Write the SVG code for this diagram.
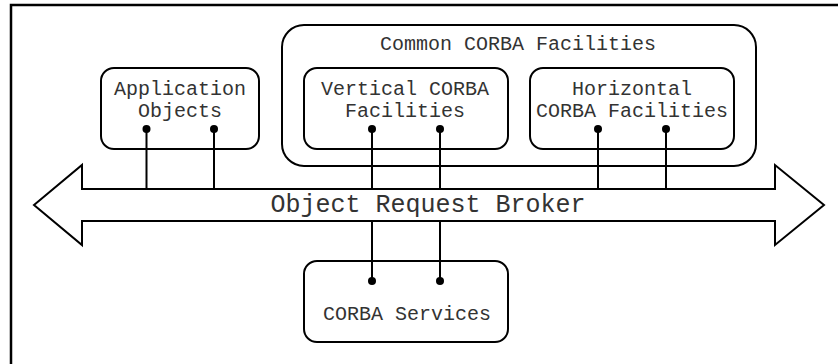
<svg xmlns="http://www.w3.org/2000/svg" width="838" height="364" viewBox="0 0 838 364">
<style>
.box{fill:none;stroke:#000;stroke-width:2}
.t{font-family:"Liberation Mono","Courier New",monospace;font-size:20px;fill:#333;text-anchor:middle}
.big{font-size:25px}
.con line{stroke:#000;stroke-width:2}
.con circle{fill:#000}
</style>
<rect width="838" height="364" fill="#fff"/>
<rect x="11" y="5" width="900" height="420" fill="none" stroke="#000" stroke-width="2.5"/>
<g id="orb">
<polygon points="34,205 82,165 82,189 775,189 775,165 824,205 775,245 775,221 82,221 82,245" fill="#fff" stroke="#000" stroke-width="2"/>
<text class="t big" x="428" y="212">Object Request Broker</text>
</g>
<g id="application-objects">
<rect class="box" x="101" y="68" width="158" height="81" rx="13"/>
<text class="t" x="180" y="95">Application</text>
<text class="t" x="180" y="117">Objects</text>
</g>
<g id="common-corba-facilities">
<rect class="box" x="282" y="25" width="474" height="141" rx="22"/>
<text class="t" x="518" y="50">Common CORBA Facilities</text>
</g>
<g id="vertical-corba-facilities">
<rect class="box" x="304" y="68" width="204" height="81" rx="13"/>
<text class="t" x="405" y="95">Vertical CORBA</text>
<text class="t" x="405" y="117">Facilities</text>
</g>
<g id="horizontal-corba-facilities">
<rect class="box" x="530" y="68" width="204" height="81" rx="13"/>
<text class="t" x="632" y="95">Horizontal</text>
<text class="t" x="632" y="117">CORBA Facilities</text>
</g>
<g id="corba-services">
<rect class="box" x="304" y="261" width="204" height="81" rx="13"/>
<text class="t" x="407" y="320">CORBA Services</text>
</g>
<g class="con" id="connectors">
<line x1="146.5" y1="129" x2="146.5" y2="189"/>
<line x1="214" y1="129" x2="214" y2="189"/>
<line x1="372" y1="129" x2="372" y2="189"/>
<line x1="440" y1="129" x2="440" y2="189"/>
<line x1="598" y1="129" x2="598" y2="189"/>
<line x1="666" y1="129" x2="666" y2="189"/>
<line x1="372" y1="221" x2="372" y2="281"/>
<line x1="440" y1="221" x2="440" y2="281"/>
<circle cx="146.5" cy="129" r="4"/>
<circle cx="214" cy="129" r="4"/>
<circle cx="372" cy="129" r="4"/>
<circle cx="440" cy="129" r="4"/>
<circle cx="598" cy="129" r="4"/>
<circle cx="666" cy="129" r="4"/>
<circle cx="372" cy="281" r="4"/>
<circle cx="440" cy="281" r="4"/>
</g>
</svg>
